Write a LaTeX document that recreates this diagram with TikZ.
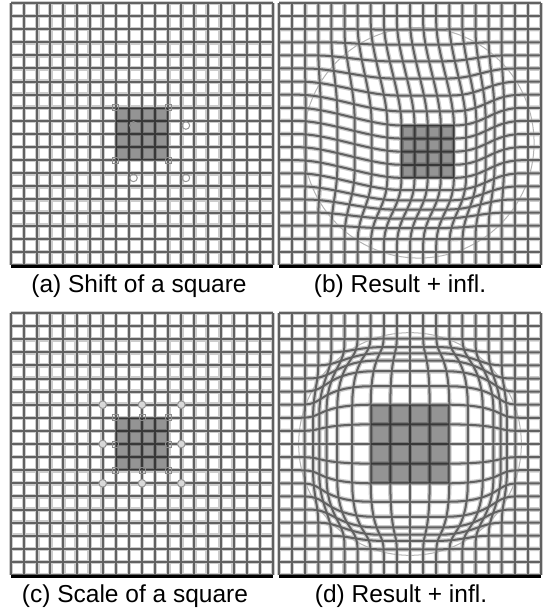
\documentclass[tikz,border=0pt]{standalone}
\usepackage{fontspec}
\setmainfont{Liberation Sans}

\tikzset{
  halo/.style={line width=4.6pt, draw=black!20},
  core/.style={line width=2pt, draw=black!62},
  patch/.style={fill=black, fill opacity=0.42},
  corner/.style={draw=black!45, line width=1pt},
  target/.style={draw=black!42, line width=1pt},
  infl/.style={draw=black!30, line width=1pt},
  captext/.style={anchor=base, font=\fontsize{24.5}{28}\selectfont},
  botline/.style={line width=2.5pt, draw=black}
}

\begin{document}
\begin{tikzpicture}[x=1pt,y=-1pt,
  declare function={
    gap(\a)=max(0,max(8-\a,\a-12));
    wgt(\u,\v,\r)=0.5+0.5*cos(180*min(1,veclen(gap(\u),gap(\v))/\r));
  }]
\useasboundingbox (0,0) rectangle (549,612);

% (a) shift of a square
\begin{scope}[shift={(11pt,-3pt)}, x=13.1pt, y=-13.1pt]
  \foreach \i in {0,...,20} {
    \draw[halo] (\i,0) -- (\i,20);
    \draw[halo] (0,\i) -- (20,\i);
  }
  \foreach \i in {0,...,20} {
    \draw[core] (\i,0) -- (\i,20);
    \draw[core] (0,\i) -- (20,\i);
  }
  \fill[patch] (8,8) rectangle (12,12);
  \foreach \p in {(8,8),(12,8),(8,12),(12,12)}
    \draw[corner] \p ++(-3pt,-3pt) rectangle ++(6pt,6pt);
  \foreach \p in {(9.35,9.35),(13.35,9.35),(9.35,13.35),(13.35,13.35)}
    \draw[target] \p circle[radius=3.8pt];
  \draw[botline] (0,20.1) -- (20,20.1);
\end{scope}

% (b) result of the shift
\begin{scope}[shift={(279pt,-3pt)}, x=13.1pt, y=-13.1pt]
  \foreach \i in {0,...,20} {
    \draw[halo] plot[variable=\t, domain=0:20, samples=41]
      ({\i+1.35*wgt(\i,\t,6.6)}, {\t+1.35*wgt(\i,\t,6.6)});
    \draw[halo] plot[variable=\t, domain=0:20, samples=41]
      ({\t+1.35*wgt(\t,\i,6.6)}, {\i+1.35*wgt(\t,\i,6.6)});
  }
  \draw[infl] (10.67,10.67) circle[radius=8.8];
  \foreach \i in {0,...,20} {
    \draw[core] plot[variable=\t, domain=0:20, samples=41]
      ({\i+1.35*wgt(\i,\t,6.6)}, {\t+1.35*wgt(\i,\t,6.6)});
    \draw[core] plot[variable=\t, domain=0:20, samples=41]
      ({\t+1.35*wgt(\t,\i,6.6)}, {\i+1.35*wgt(\t,\i,6.6)});
  }
  \fill[patch] (9.35,9.35) rectangle (13.35,13.35);
  \draw[botline] (0,20.1) -- (20,20.1);
\end{scope}

% (c) scale of a square
\begin{scope}[shift={(11pt,-313pt)}, x=13.1pt, y=-13.1pt]
  \foreach \i in {0,...,20} {
    \draw[halo] (\i,0) -- (\i,20);
    \draw[halo] (0,\i) -- (20,\i);
  }
  \foreach \i in {0,...,20} {
    \draw[core] (\i,0) -- (\i,20);
    \draw[core] (0,\i) -- (20,\i);
  }
  \fill[patch] (8,8) rectangle (12,12);
  \foreach \p in {(8,8),(10,8),(12,8),(8,10),(12,10),(8,12),(10,12),(12,12)}
    \draw[corner] \p ++(-3pt,-3pt) rectangle ++(6pt,6pt);
  \foreach \p in {(7,7),(10,7),(13,7),(7,10),(13,10),(7,13),(10,13),(13,13)}
    \draw[target, fill=black!15] \p circle[radius=3.8pt];
  \draw[botline] (0,20.1) -- (20,20.1);
\end{scope}

% (d) result of the scale
\begin{scope}[shift={(279pt,-313pt)}, x=13.1pt, y=-13.1pt]
  \foreach \i in {0,...,20} {
    \draw[halo] plot[variable=\t, domain=0:20, samples=41]
      ({10+(\i-10)*(1+0.5*wgt(\i,\t,6.4))}, {10+(\t-10)*(1+0.5*wgt(\i,\t,6.4))});
    \draw[halo] plot[variable=\t, domain=0:20, samples=41]
      ({10+(\t-10)*(1+0.5*wgt(\t,\i,6.4))}, {10+(\i-10)*(1+0.5*wgt(\t,\i,6.4))});
  }
  \draw[infl] (10,10) circle[radius=8.5];
  \foreach \i in {0,...,20} {
    \draw[core] plot[variable=\t, domain=0:20, samples=41]
      ({10+(\i-10)*(1+0.5*wgt(\i,\t,6.4))}, {10+(\t-10)*(1+0.5*wgt(\i,\t,6.4))});
    \draw[core] plot[variable=\t, domain=0:20, samples=41]
      ({10+(\t-10)*(1+0.5*wgt(\t,\i,6.4))}, {10+(\i-10)*(1+0.5*wgt(\t,\i,6.4))});
  }
  \fill[patch] (7,7) rectangle (13,13);
  \draw[botline] (0,20.1) -- (20,20.1);
\end{scope}

% captions
\node[captext] (capA) at (139,292) {(a) Shift of a square};
\node[captext] (capB) at (400,292) {(b) Result + infl.};
\node[captext] (capC) at (135,602) {(c) Scale of a square};
\node[captext] (capD) at (401,602) {(d) Result + infl.};
\end{tikzpicture}
\end{document}
